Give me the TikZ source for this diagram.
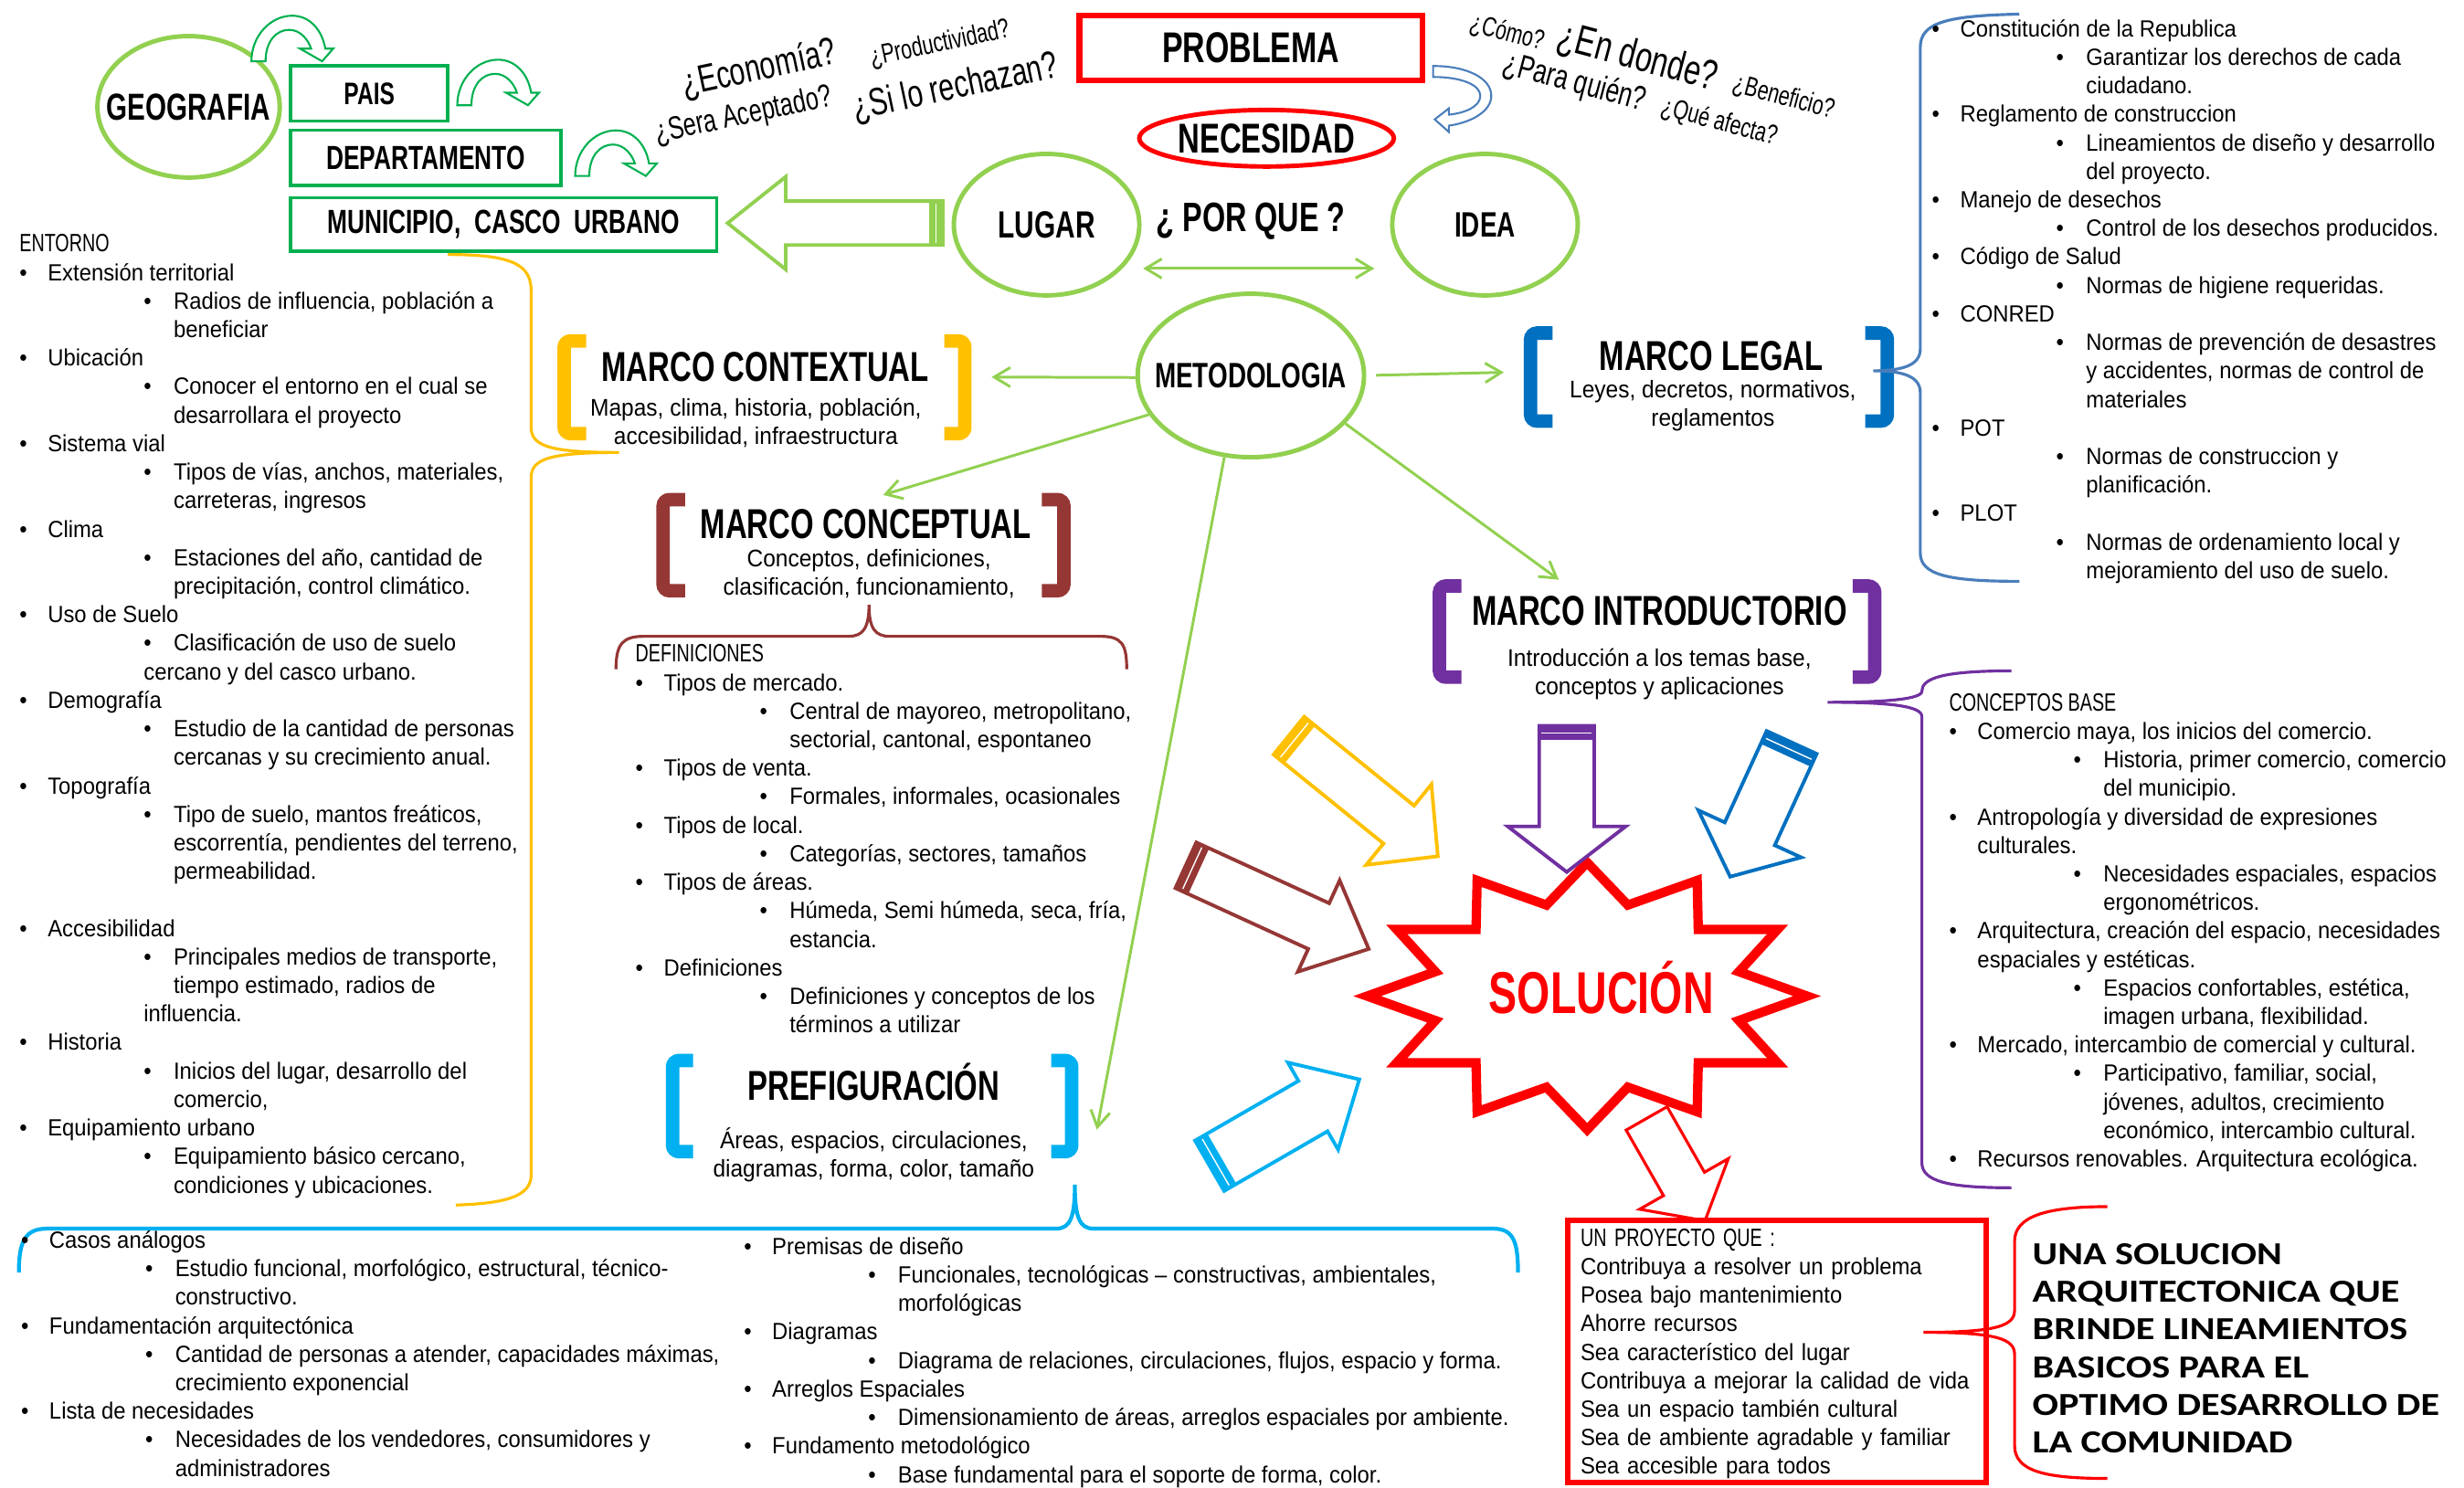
\documentclass[tikz,border=0pt]{standalone}
\usepackage{fontspec}
\setmainfont{Liberation Sans}
\newfontfamily\ttlfont{Liberation Sans}[FakeStretch=0.72]
\newfontfamily\lstfont{Liberation Sans}[FakeStretch=0.93]
\newfontfamily\capfont{Carlito}[FakeStretch=1.2]
\usetikzlibrary{shapes,arrows.meta}
\usepackage{xcolor}

\definecolor{lgreen}{HTML}{92D050}
\definecolor{dgreen}{HTML}{00B050}
\definecolor{mred}{HTML}{FF0000}
\definecolor{myellow}{HTML}{FFC000}
\definecolor{mblue}{HTML}{0070C0}
\definecolor{sblue}{HTML}{4A7EBB}
\definecolor{mbrown}{HTML}{953735}
\definecolor{mpurple}{HTML}{7030A0}
\definecolor{mcyan}{HTML}{00B0F0}

\newcommand{\bua}{\makebox[8.8pt][l]{\textbullet}}
\newcommand{\bub}{\hspace*{38.7pt}\makebox[9.3pt][l]{\textbullet}}
\newcommand{\buc}{\hspace*{48pt}}
\newcommand{\bud}{\hspace*{38.7pt}}
\newcommand{\bue}{\hspace*{8.8pt}}
\newcommand{\firstln}{\rule{0pt}{7pt}}
\newcommand{\lhead}[1]{{\ttlfont\fontsize{7.8}{8.88}\selectfont #1}}

\begin{document}
\begin{tikzpicture}[x=0.0172cm, y=-0.0172cm,
    ttl/.style={font=\ttlfont\bfseries\fontsize{13}{13}\selectfont, inner sep=0pt, anchor=base},
    sub/.style={font=\lstfont\fontsize{7.5}{8.8}\selectfont, align=center, inner sep=0pt},
    lst/.style={font=\lstfont\fontsize{7.3}{8.88}\selectfont, align=left, anchor=north west, inner sep=0pt},
    oval/.style={ellipse, draw=lgreen, line width=1.4pt, inner sep=0pt},
    gbox/.style={draw=dgreen, line width=1pt, inner sep=0pt, font=\ttlfont\bfseries\fontsize{10.4}{10.4}\selectfont},
    garrow/.style={draw=lgreen, line width=0.85pt, -{Straight Barb[length=5pt,width=6pt]}},
    brkt/.style={draw=#1, line width=4.2pt, rounded corners=2pt},
    brace/.style={draw=#1, line width=0.9pt},
    qst/.style={font=\ttlfont, inner sep=0pt},
    curv/.style={draw=#1, line width=0.6pt, fill=white}
]

    \useasboundingbox (0,0) rectangle (1568,947);

    \node[oval, minimum width=1.995cm, minimum height=1.548cm, font=\ttlfont\bfseries\fontsize{11.7}{12}\selectfont] (geo) at (120,68) {\makebox[0pt]{GEOGRAFIA}};
    \node[gbox, minimum width=1.72cm, minimum height=0.602cm, font=\ttlfont\bfseries\fontsize{9.7}{10}\selectfont] (pais) at (235,59.5) {PAIS};
    \node[gbox, minimum width=2.958cm, minimum height=0.602cm] (dep) at (271,100.5) {DEPARTAMENTO};
    \node[gbox, minimum width=4.661cm, minimum height=0.585cm] (muni) at (320.5,143) {MUNICIPIO,\ \ CASCO\ \ URBANO};

    \foreach \cx/\cy in {160/39, 291/67, 366/112} {
        \begin{scope}[shift={(\cx,\cy)}]
            \draw[curv=dgreen] (0,0) -- (9,0) .. controls (9,-13) and (16,-20) .. (24,-20) .. controls (31,-20) and (36,-14) .. (38,-8) -- (31,-8) -- (45,0) -- (52,-8) -- (47,-8) .. controls (45,-20) and (37,-29) .. (26,-29) .. controls (12,-29) and (0,-16) .. (0,0) -- cycle;
        \end{scope}
    }

    \node[qst, rotate=12, font=\ttlfont\fontsize{12}{12}\selectfont] (qeco) at (483,44) {¿Economía?};
    \node[qst, rotate=12, font=\ttlfont\fontsize{8.5}{8.5}\selectfont] (qpro) at (598,28) {¿Productividad?};
    \node[qst, rotate=12, font=\ttlfont\fontsize{10}{10}\selectfont] (qace) at (473,74) {¿Sera Aceptado?};
    \node[qst, rotate=12, font=\ttlfont\fontsize{12}{12}\selectfont] (qrec) at (608,56) {¿Si lo rechazan?};
    \node[qst, rotate=-15, font=\ttlfont\fontsize{8.5}{8.5}\selectfont] (qcom) at (959,21) {¿Cómo?};
    \node[qst, rotate=-15, font=\ttlfont\fontsize{13}{13}\selectfont] (qdon) at (1042,37) {¿En donde?};
    \node[qst, rotate=-15, font=\ttlfont\fontsize{8.5}{8.5}\selectfont] (qben) at (1135,62) {¿Beneficio?};
    \node[qst, rotate=-15, font=\ttlfont\fontsize{10.5}{10.5}\selectfont] (qpar) at (1002,53) {¿Para quién?};
    \node[qst, rotate=-15, font=\ttlfont\fontsize{8.5}{8.5}\selectfont] (qafe) at (1094,78) {¿Qué afecta?};

    \node[draw=mred, line width=1.8pt, minimum width=3.75cm, minimum height=0.705cm, inner sep=0pt, font=\ttlfont\bfseries\fontsize{13.4}{13.4}\selectfont] (prob) at (796,30.5) {PROBLEMA};
    \begin{scope}[shift={(912,42)}]
        \draw[curv=sblue] (0,0) .. controls (22,0) and (37,8) .. (37,19) .. controls (37,29) and (24,36) .. (10,38) -- (10,42) -- (1,34) -- (10,27) -- (10,31) .. controls (20,30) and (30,26) .. (30,19) .. controls (30,12) and (18,7) .. (0,7) -- cycle;
    \end{scope}
    \node[ellipse, draw=mred, line width=1.4pt, minimum width=2.786cm, minimum height=0.619cm, inner sep=0pt, font=\ttlfont\bfseries\fontsize{13}{13}\selectfont] (nec) at (806,88) {NECESIDAD};

    \node[oval, minimum width=2.03cm, minimum height=1.548cm, font=\ttlfont\bfseries\fontsize{11.8}{12}\selectfont] (lugar) at (666,143) {LUGAR};
    \node[inner sep=0pt, font=\ttlfont\bfseries\fontsize{12.8}{13}\selectfont] (porque) at (796,141) {¿ POR QUE ?};
    \node[oval, minimum width=2.03cm, minimum height=1.548cm, font=\ttlfont\bfseries\fontsize{11}{12}\selectfont] (idea) at (945,143) {IDEA};
    \node[oval, minimum width=2.477cm, minimum height=1.789cm, font=\ttlfont\bfseries\fontsize{11}{12}\selectfont] (meto) at (796,239) {\makebox[0pt]{METODOLOGIA}};

    \draw[garrow, {Straight Barb[length=5pt,width=6pt]}-{Straight Barb[length=5pt,width=6pt]}, shorten <=6.4pt, shorten >=10.8pt] (lugar.-30) -- (idea.210);

    \node[ttl] (ctxt) at (487,243) {MARCO CONTEXTUAL};
    \node[sub] (ctxs) at (481,269) {Mapas, clima, historia, población,\\accesibilidad, infraestructura};
    \node[ttl] (legt) at (1089,236) {MARCO LEGAL};
    \node[sub] (legs) at (1090,258) {Leyes, decretos, normativos,\\reglamentos};
    \node[ttl] (cont) at (551,343) {MARCO CONCEPTUAL};
    \node[sub] (cons) at (553,365) {Conceptos, definiciones,\\clasificación, funcionamiento,};
    \node[ttl] (intt) at (1056,398) {MARCO INTRODUCTORIO};
    \node[sub] (ints) at (1056,429) {Introducción a los temas base,\\conceptos y aplicaciones};
    \node[ttl] (pret) at (556,700) {PREFIGURACIÓN};
    \node[sub] (pres) at (556,735) {Áreas, espacios, circulaciones,\\diagramas, forma, color, tamaño};

    \draw[brkt=myellow] (373,217) -- (359,217) -- (359,276) -- (373,276);
    \draw[brkt=myellow] (601,217) -- (614,217) -- (614,276) -- (601,276);
    \draw[brkt=mblue] (988,212) -- (974,212) -- (974,268) -- (988,268);
    \draw[brkt=mblue] (1187,212) -- (1201,212) -- (1201,268) -- (1187,268);
    \draw[brkt=mbrown] (436,318) -- (422,318) -- (422,376) -- (436,376);
    \draw[brkt=mbrown] (663,318) -- (677,318) -- (677,376) -- (663,376);
    \draw[brkt=mpurple] (930,373) -- (916,373) -- (916,431) -- (930,431);
    \draw[brkt=mpurple] (1179,373) -- (1193,373) -- (1193,431) -- (1179,431);
    \draw[brkt=mcyan] (441,675) -- (428,675) -- (428,733) -- (441,733);
    \draw[brkt=mcyan] (669,675) -- (682,675) -- (682,733) -- (669,733);

    \coordinate (ctxin) at (631,240);
    \coordinate (legin) at (957,237);
    \coordinate (conin) at (562,315);
    \coordinate (intin) at (992,369);
    \coordinate (prein) at (698,719);
    \draw[garrow] (meto.181) -- (ctxin);
    \draw[garrow, shorten <=3pt] (meto.east) -- (legin);
    \draw[garrow] (meto.201) -- (conin);
    \draw[garrow] (meto.333) -- (intin);
    \draw[garrow] (meto.252) -- (prein);

    \draw[brace=myellow] (285,162) .. controls (325,162) and (338,168) .. (338,185) -- (338,272) .. controls (338,284) and (350,288) .. (394,288) .. controls (350,288) and (338,292) .. (338,304) -- (338,748) .. controls (338,762) and (320,766) .. (290,767);
    \draw[brace=sblue] (1285,9) .. controls (1240,10) and (1222,14) .. (1222,30) -- (1222,222) .. controls (1222,232) and (1212,236) .. (1192,236) .. controls (1212,236) and (1222,240) .. (1222,250) -- (1222,352) .. controls (1222,366) and (1240,370) .. (1285,370);
    \draw[brace=mpurple] (1280,427) .. controls (1235,427) and (1223,432) .. (1223,440) .. controls (1223,445) and (1200,447) .. (1163,447) .. controls (1200,447) and (1223,449) .. (1223,456) -- (1223,740) .. controls (1223,752) and (1240,756) .. (1280,756);
    \draw[brace=mbrown] (392,426) .. controls (392,410) and (396,405) .. (410,405) -- (540,405) .. controls (549,405) and (553,400) .. (553,385) .. controls (553,400) and (557,405) .. (566,405) -- (700,405) .. controls (714,405) and (717,410) .. (717,426);
    \draw[brace=mcyan, line width=1.2pt] (12,810) .. controls (12,790) and (16,782) .. (30,782) -- (672,782) .. controls (681,782) and (684,775) .. (684,754) .. controls (684,775) and (687,782) .. (696,782) -- (950,782) .. controls (963,782) and (966,790) .. (966,810);
    \draw[brace=mred] (1341,768) .. controls (1300,768) and (1282,775) .. (1282,790) -- (1282,834) .. controls (1282,844) and (1270,848) .. (1224,848) .. controls (1270,848) and (1282,852) .. (1282,862) -- (1282,920) .. controls (1282,936) and (1300,941) .. (1341,941);

    \begin{scope}[shift={(1010,634)}]
        \draw[mred, line width=2.9pt, line join=miter] (0,-85) \foreach \k in {1,...,23} { -- ({(140-40*mod(\k,2))*sin(15*\k)},{-(85-25*mod(\k,2))*cos(15*\k)}) } -- cycle;
    \end{scope}
    \node[font=\ttlfont\bfseries\fontsize{18.4}{18.4}\selectfont, text=mred, inner sep=0pt, anchor=base] (sol) at (1019,645) {SOLUCIÓN};

    \foreach \px/\py/\ang/\lng/\sw/\hw/\hl/\col in {915/545/-39/122/31/66/32/myellow, 871/604/-24.6/128/32/64/35/mbrown, 997/555/-90/93/35/75/29/mpurple, 1101/558/-114.6/94/35/72/30/mblue, 865/687/30/110/37/64/34/mcyan, 463/142/180/137/28/59/37/lgreen} {
        \begin{scope}[shift={(\px,\py)}, rotate=\ang]
            \fill[\col] ({-\lng},{-\sw/2}) rectangle ({-\lng+9},{\sw/2});
            \draw[white, line width=0.4pt] ({-\lng+4.5},{-\sw/2+1.5}) -- ({-\lng+4.5},{\sw/2-1.5});
            \draw[\col, line width=1.1pt, line join=miter] (0,0) -- ({-\hl},{\hw/2}) -- ({-\hl},{\sw/2}) -- ({-\lng},{\sw/2}) -- ({-\lng},{-\sw/2}) -- ({-\hl},{-\sw/2}) -- ({-\hl},{-\hw/2}) -- cycle;
        \end{scope}
    }
    \begin{scope}[shift={(1085,777)}, rotate=-60.3]
        \draw[mred, line width=0.9pt, line join=miter] (0,0) -- (-27,32.5) -- (-27,15) -- (-75,15) -- (-75,-15) -- (-27,-15) -- (-27,-32.5) -- cycle;
    \end{scope}

    \node[lst] (entorno) at (12,145.7) {\firstln\lhead{ENTORNO}\\
        \bua Extensión territorial\\
        \bub Radios de influencia, población a\\
        \buc beneficiar\\
        \bua Ubicación\\
        \bub Conocer el entorno en el cual se\\
        \buc desarrollara el proyecto\\
        \bua Sistema vial\\
        \bub Tipos de vías, anchos, materiales,\\
        \buc carreteras, ingresos\\
        \bua Clima\\
        \bub Estaciones del año, cantidad de\\
        \buc precipitación, control climático.\\
        \bua Uso de Suelo\\
        \bub Clasificación de uso de suelo\\
        \bud cercano y del casco urbano.\\
        \bua Demografía\\
        \bub Estudio de la cantidad de personas\\
        \buc cercanas y su crecimiento anual.\\
        \bua Topografía\\
        \bub Tipo de suelo, mantos freáticos,\\
        \buc escorrentía, pendientes del terreno,\\
        \buc permeabilidad.\\[8.88pt]
        \bua Accesibilidad\\
        \bub Principales medios de transporte,\\
        \buc tiempo estimado, radios de\\
        \bud influencia.\\
        \bua Historia\\
        \bub Inicios del lugar, desarrollo del\\
        \buc comercio,\\
        \bua Equipamiento urbano\\
        \bub Equipamiento básico cercano,\\
        \buc condiciones y ubicaciones.};

    \node[lst] (legal) at (1229,8.7) {\firstln\bua Constitución de la Republica\\
        \bub Garantizar los derechos de cada\\
        \buc ciudadano.\\
        \bua Reglamento de construccion\\
        \bub Lineamientos de diseño y desarrollo\\
        \buc del proyecto.\\
        \bua Manejo de desechos\\
        \bub Control de los desechos producidos.\\
        \bua Código de Salud\\
        \bub Normas de higiene requeridas.\\
        \bua CONRED\\
        \bub Normas de prevención de desastres\\
        \buc y accidentes, normas de control de\\
        \buc materiales\\
        \bua POT\\
        \bub Normas de construccion y\\
        \buc planificación.\\
        \bua PLOT\\
        \bub Normas de ordenamiento local y\\
        \buc mejoramiento del uso de suelo.};

    \node[lst] (defs) at (404,406.7) {\firstln\lhead{DEFINICIONES}\\
        \bua Tipos de mercado.\\
        \bub Central de mayoreo, metropolitano,\\
        \buc sectorial, cantonal, espontaneo\\
        \bua Tipos de venta.\\
        \bub Formales, informales, ocasionales\\
        \bua Tipos de local.\\
        \bub Categorías, sectores, tamaños\\
        \bua Tipos de áreas.\\
        \bub Húmeda, Semi húmeda, seca, fría,\\
        \buc estancia.\\
        \bua Definiciones\\
        \bub Definiciones y conceptos de los\\
        \buc términos a utilizar};

    \node[lst] (base) at (1240,437.7) {\firstln\lhead{CONCEPTOS BASE}\\
        \bua Comercio maya, los inicios del comercio.\\
        \bub Historia, primer comercio, comercio\\
        \buc del municipio.\\
        \bua Antropología y diversidad de expresiones\\
        \bue culturales.\\
        \bub Necesidades espaciales, espacios\\
        \buc ergonométricos.\\
        \bua Arquitectura, creación del espacio, necesidades\\
        \bue espaciales y estéticas.\\
        \bub Espacios confortables, estética,\\
        \buc imagen urbana, flexibilidad.\\
        \bua Mercado, intercambio de comercial y cultural.\\
        \bub Participativo, familiar, social,\\
        \buc jóvenes, adultos, crecimiento\\
        \buc económico, intercambio cultural.\\
        \bua Recursos renovables. Arquitectura ecológica.};

    \node[lst] (casos) at (13,779.7) {\firstln\bua Casos análogos\\
        \bub Estudio funcional, morfológico, estructural, técnico-\\
        \buc constructivo.\\
        \bua Fundamentación arquitectónica\\
        \bub Cantidad de personas a atender, capacidades máximas,\\
        \buc crecimiento exponencial\\
        \bua Lista de necesidades\\
        \bub Necesidades de los vendedores, consumidores y\\
        \buc administradores};

    \node[lst] (premisas) at (473,783.7) {\firstln\bua Premisas de diseño\\
        \bub Funcionales, tecnológicas – constructivas, ambientales,\\
        \buc morfológicas\\
        \bua Diagramas\\
        \bub Diagrama de relaciones, circulaciones, flujos, espacio y forma.\\
        \bua Arreglos Espaciales\\
        \bub Dimensionamiento de áreas, arreglos espaciales por ambiente.\\
        \bua Fundamento metodológico\\
        \bub Base fundamental para el soporte de forma, color.};

    \node[draw=mred, line width=1.6pt, anchor=north west, text width=4.3cm, inner xsep=4pt, inner ysep=0.5pt, minimum height=2.872cm, align=left, font=\lstfont\fontsize{7.3}{8.88}\selectfont] (proj) at (996,775) {\firstln\lhead{UN PROYECTO QUE :}\\
        Contribuya a resolver un problema\\
        Posea bajo mantenimiento\\
        Ahorre recursos\\
        Sea característico del lugar\\
        Contribuya a mejorar la calidad de vida\\
        Sea un espacio también cultural\\
        Sea de ambiente agradable y familiar\\
        Sea accesible para todos};

    \node[font=\capfont\bfseries\fontsize{10}{11.75}\selectfont, align=left, anchor=north west, inner sep=0pt] (lema) at (1293,791) {\rule{0pt}{6.5pt}UNA SOLUCION\\
        ARQUITECTONICA QUE\\
        BRINDE LINEAMIENTOS\\
        BASICOS PARA EL\\
        OPTIMO DESARROLLO DE\\
        LA COMUNIDAD};

\end{tikzpicture}
\end{document}
